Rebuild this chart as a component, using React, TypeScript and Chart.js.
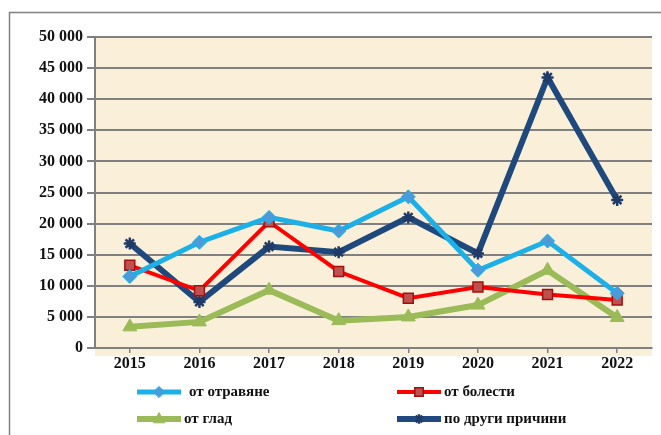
import React, { useEffect, useRef } from 'react';
import { Chart, registerables } from 'chart.js';

Chart.register(...registerables);

const years = ['2015', '2016', '2017', '2018', '2019', '2020', '2021', '2022'];
const poisoning = [11500, 17000, 21000, 18800, 24300, 12500, 17200, 8800];
const disease = [13300, 9200, 20300, 12300, 8000, 9800, 8600, 7700];
const hunger = [3400, 4200, 9300, 4400, 5000, 6900, 12500, 4900];
const other = [16800, 7400, 16300, 15400, 21000, 15200, 43500, 23800];
const seriesNames = ['от отравяне', 'от болести', 'от глад', 'по други причини'];

const FONT = '"Liberation Serif", "Times New Roman", serif';

function fmt(v: number) {
  return String(v).replace(/\B(?=(\d{3})+(?!\d))/g, ' ');
}

function drawMarker(ctx: CanvasRenderingContext2D, style: string, x: number, y: number, r: number, fill: string, stroke: string, bw: number) {
  ctx.save();
  ctx.fillStyle = fill;
  ctx.strokeStyle = stroke;
  ctx.lineWidth = bw;
  ctx.beginPath();
  if (style === 'rectRot') {
    ctx.moveTo(x, y - r); ctx.lineTo(x + r, y); ctx.lineTo(x, y + r); ctx.lineTo(x - r, y); ctx.closePath();
    ctx.fill(); ctx.stroke();
  } else if (style === 'rect') {
    ctx.rect(x - r * 0.75, y - r * 0.75, r * 1.5, r * 1.5);
    ctx.fill(); ctx.stroke();
  } else if (style === 'triangle') {
    ctx.moveTo(x, y - r); ctx.lineTo(x + r * 0.9, y + r * 0.6); ctx.lineTo(x - r * 0.9, y + r * 0.6); ctx.closePath();
    ctx.fill(); ctx.stroke();
  } else {
    const d = r * 0.7;
    ctx.moveTo(x - d, y - d); ctx.lineTo(x + d, y + d);
    ctx.moveTo(x + d, y - d); ctx.lineTo(x - d, y + d);
    ctx.moveTo(x, y - r); ctx.lineTo(x, y + r);
    ctx.stroke();
  }
  ctx.restore();
}

const styles = [
  { color: '#1DB0E6', width: 5, point: 'rectRot', r: 7, fill: '#4A9BDA', stroke: '#1DB0E6', bw: 1 },
  { color: '#FF0000', width: 4, point: 'rect', r: 7, fill: '#C0504D', stroke: '#A01010', bw: 1.5 },
  { color: '#9BBB59', width: 6, point: 'triangle', r: 8, fill: '#9BBB59', stroke: '#9BBB59', bw: 1 },
  { color: '#1F497D', width: 6, point: 'star', r: 6, fill: '#1F497D', stroke: '#1F3A66', bw: 2.5 },
];

const framePlugin = {
  id: 'frame',
  beforeDraw(chart: any) {
    const { ctx, chartArea } = chart;
    ctx.save();
    ctx.fillStyle = '#FAF0DA';
    ctx.fillRect(chartArea.left, chartArea.top, chartArea.right - chartArea.left, chartArea.bottom - chartArea.top + 8);
    ctx.strokeStyle = '#808080';
    ctx.lineWidth = 1.5;
    ctx.beginPath();
    ctx.moveTo(9.5, 435);
    ctx.lineTo(9.5, 12.5);
    ctx.lineTo(661, 12.5);
    ctx.stroke();
    ctx.restore();
  },
  afterDraw(chart: any) {
    const { ctx } = chart;
    const cols = [137, 397];
    const rows = [392, 419];
    const textX = [[189, 444], [184, 444]];
    ctx.save();
    ctx.font = `bold 15px ${FONT}`;
    ctx.textBaseline = 'middle';
    ctx.fillStyle = '#111';
    const order = [[0, 1], [2, 3]];
    for (let ri = 0; ri < 2; ri++) {
      for (let ci = 0; ci < 2; ci++) {
        const idx = order[ri][ci];
        const s = styles[idx];
        const x0 = cols[ci];
        const y = rows[ri];
        ctx.strokeStyle = s.color;
        ctx.lineWidth = s.width;
        ctx.beginPath();
        ctx.moveTo(x0, y);
        ctx.lineTo(x0 + 44, y);
        ctx.stroke();
        drawMarker(ctx, s.point, x0 + 22, y, s.r * 0.8, s.fill, s.stroke, s.bw);
        ctx.fillStyle = '#111';
        ctx.fillText(seriesNames[idx], textX[ri][ci], y);
      }
    }
    ctx.restore();
  },
};

export default function App() {
  const ref = useRef<HTMLCanvasElement>(null);
  useEffect(() => {
    if (!ref.current) return;
    const data = [poisoning, disease, hunger, other];
    const chart = new Chart(ref.current, {
      type: 'line',
      data: {
        labels: years,
        datasets: data.map((d, i) => ({
          label: seriesNames[i],
          data: d,
          borderColor: styles[i].color,
          borderWidth: styles[i].width,
          pointStyle: styles[i].point as any,
          pointRadius: styles[i].r,
          pointBackgroundColor: styles[i].fill,
          pointBorderColor: styles[i].stroke,
          pointBorderWidth: styles[i].bw,
          tension: 0,
          fill: false,
        })),
      },
      options: {
        animation: false,
        responsive: false,
        layout: { padding: { top: 37, right: 0, bottom: 57, left: 0 } },
        plugins: { legend: { display: false }, tooltip: { enabled: false } },
        scales: {
          x: {
            offset: true,
            grid: { drawOnChartArea: false, drawTicks: true, tickLength: 5, color: '#808080', lineWidth: 1.5 },
            border: { color: '#808080', width: 2 },
            ticks: { color: '#111', font: { family: FONT, size: 16, weight: 'bold' }, padding: 1 },
            afterFit(s: any) { s.height = 30; },
          },
          y: {
            min: 0,
            max: 50000,
            ticks: {
              stepSize: 5000,
              color: '#111',
              font: { family: FONT, size: 16, weight: 'bold' },
              padding: 4,
              callback: (v: any) => fmt(Number(v)),
            },
            grid: { color: '#808080', lineWidth: 2, tickLength: 8 },
            border: { color: '#808080', width: 2 },
            afterFit(s: any) { s.width = 95; },
          },
        },
      },
      plugins: [framePlugin],
    });
    return () => chart.destroy();
  }, []);
  return (
    <div style={{ position: 'absolute', left: 0, top: 0, width: 661, height: 435, background: '#fff' }}>
      <canvas ref={ref} width={661} height={435} style={{ width: 661, height: 435, display: 'block' }} />
    </div>
  );
}
